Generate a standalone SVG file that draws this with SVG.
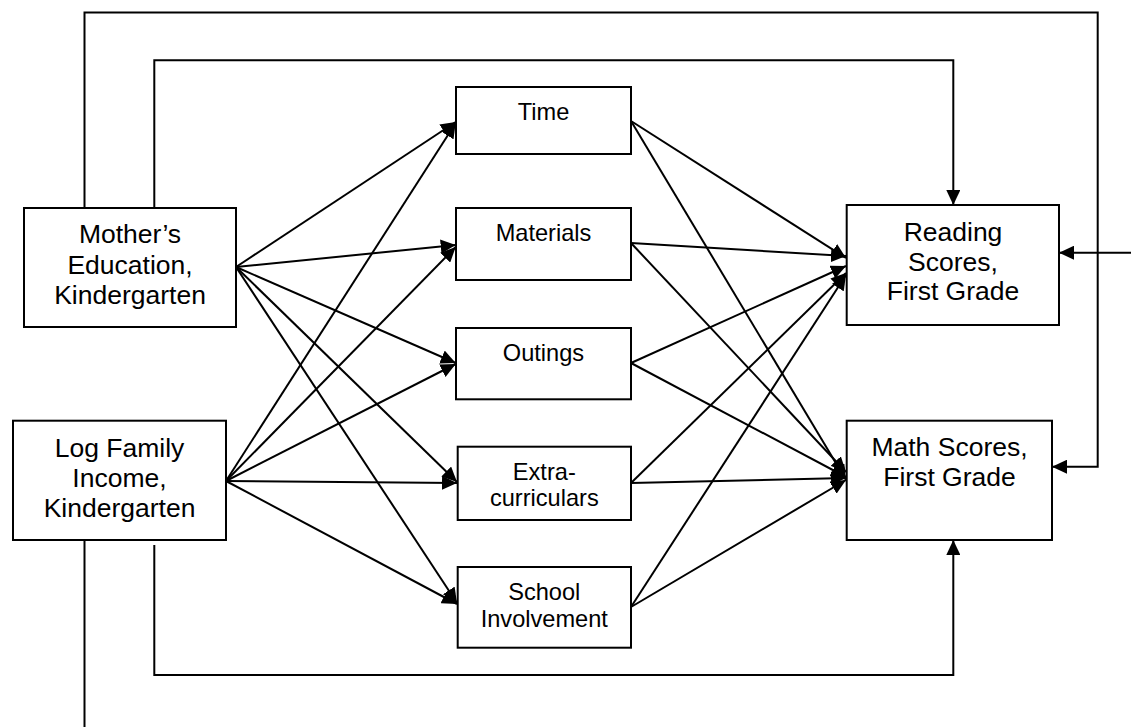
<svg xmlns="http://www.w3.org/2000/svg" width="1131" height="727" viewBox="0 0 1131 727">
  <style>
    .box { fill: #fff; stroke: #000; stroke-width: 2; }
    .lbl { font-family: "Liberation Sans", Arial, sans-serif; fill: #000; text-anchor: middle; }
    .big { font-size: 26.5px; }
    .small { font-size: 23.6px; }
    .wire { fill: none; stroke: #000; stroke-width: 2; }
    .arr { marker-end: url(#head); }
  </style>
  <defs>
    <marker id="head" markerUnits="userSpaceOnUse" markerWidth="15" markerHeight="14" refX="15" refY="7" orient="auto">
      <path d="M0,0 L15,7 L0,14 z" fill="#000"/>
    </marker>
  </defs>
  <rect width="1131" height="727" fill="#fff"/>

  <!-- connectors -->
  <g id="connectors">
    <!-- long routes around the outside -->
    <path class="wire arr" d="M84.5,208 V12.5 H1097.7 V466.7 H1052"/>
    <path class="wire arr" d="M154.3,208 V60.3 H953.3 V205"/>
    <path class="wire" d="M84.5,540 V727"/>
    <path class="wire arr" d="M1131,252.7 H1059"/>
    <path class="wire arr" d="M154.3,545 V675 H953.3 V540"/>

    <!-- Mother's Education to mediators -->
    <line class="wire arr" x1="236" y1="267" x2="455.7" y2="122"/>
    <line class="wire arr" x1="236" y1="267" x2="455.7" y2="245"/>
    <line class="wire arr" x1="236" y1="267" x2="455.7" y2="363"/>
    <line class="wire arr" x1="236" y1="267" x2="457" y2="482"/>
    <line class="wire arr" x1="236" y1="267" x2="457" y2="603"/>

    <!-- Log Family Income to mediators -->
    <line class="wire arr" x1="226" y1="481" x2="455.7" y2="123"/>
    <line class="wire arr" x1="226" y1="481" x2="455.7" y2="247"/>
    <line class="wire arr" x1="226" y1="481" x2="455.7" y2="364"/>
    <line class="wire arr" x1="226" y1="481" x2="457" y2="483"/>
    <line class="wire arr" x1="226" y1="481" x2="457" y2="604"/>

    <!-- mediators to Reading Scores -->
    <line class="wire arr" x1="631" y1="121" x2="846" y2="258"/>
    <line class="wire arr" x1="631" y1="243" x2="846" y2="256"/>
    <line class="wire arr" x1="631" y1="363" x2="846" y2="266"/>
    <line class="wire arr" x1="631" y1="483" x2="846" y2="273"/>
    <line class="wire arr" x1="631" y1="607" x2="846" y2="275"/>

    <!-- mediators to Math Scores -->
    <line class="wire arr" x1="631" y1="121" x2="846" y2="480"/>
    <line class="wire arr" x1="631" y1="243" x2="846" y2="472"/>
    <line class="wire arr" x1="631" y1="363" x2="846" y2="477"/>
    <line class="wire arr" x1="631" y1="483" x2="846" y2="478"/>
    <line class="wire arr" x1="631" y1="607" x2="846" y2="480"/>
  </g>

  <g id="mothers-education">
    <rect class="box" x="24" y="208" width="212" height="119"/>
    <text class="lbl big" x="130" y="242.7">Mother’s</text>
    <text class="lbl big" x="130" y="273.5">Education,</text>
    <text class="lbl big" x="130" y="304">Kindergarten</text>
  </g>

  <g id="log-family-income">
    <rect class="box" x="13" y="420.7" width="213" height="119.3"/>
    <text class="lbl big" x="119.5" y="456.7">Log Family</text>
    <text class="lbl big" x="119.5" y="486.5">Income,</text>
    <text class="lbl big" x="119.5" y="516.7">Kindergarten</text>
  </g>

  <g id="time">
    <rect class="box" x="456" y="87" width="175" height="67"/>
    <text class="lbl small" x="543.5" y="120">Time</text>
  </g>

  <g id="materials">
    <rect class="box" x="456" y="208" width="175" height="72"/>
    <text class="lbl small" x="543.5" y="240.7">Materials</text>
  </g>

  <g id="outings">
    <rect class="box" x="456" y="328" width="175" height="71.3"/>
    <text class="lbl small" x="543.5" y="361">Outings</text>
  </g>

  <g id="extracurriculars">
    <rect class="box" x="457.7" y="446.7" width="173.3" height="73.3"/>
    <text class="lbl small" x="544.3" y="480">Extra-</text>
    <text class="lbl small" x="544.3" y="506">curriculars</text>
  </g>

  <g id="school-involvement">
    <rect class="box" x="457.7" y="567" width="173.3" height="80.7"/>
    <text class="lbl small" x="544.3" y="599.5">School</text>
    <text class="lbl small" x="544.3" y="626.5">Involvement</text>
  </g>

  <g id="reading-scores">
    <rect class="box" x="846.7" y="205" width="212.3" height="120"/>
    <text class="lbl big" x="953" y="240.7">Reading</text>
    <text class="lbl big" x="953" y="270.7">Scores,</text>
    <text class="lbl big" x="953" y="300">First Grade</text>
  </g>

  <g id="math-scores">
    <rect class="box" x="846.7" y="420.7" width="205.3" height="119.3"/>
    <text class="lbl big" x="949.5" y="455.7">Math Scores,</text>
    <text class="lbl big" x="949.5" y="485.7">First Grade</text>
  </g>
</svg>
